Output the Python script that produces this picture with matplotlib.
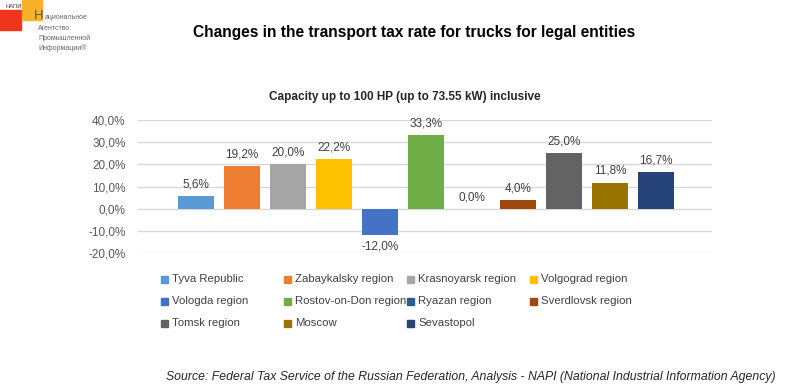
import matplotlib
matplotlib.use("Agg")
import matplotlib.pyplot as plt
from matplotlib.patches import Rectangle
from matplotlib.ticker import FuncFormatter

regions = ["Tyva Republic", "Zabaykalsky region", "Krasnoyarsk region", "Volgograd region",
           "Vologda region", "Rostov-on-Don region", "Ryazan region", "Sverdlovsk region",
           "Tomsk region", "Moscow", "Sevastopol"]
values = [5.6, 19.2, 20.0, 22.2, -12.0, 33.3, 0.0, 4.0, 25.0, 11.8, 16.7]
colors = ["#5B9BD5", "#ED7D31", "#A5A5A5", "#FFC000", "#4472C4", "#70AD47",
          "#255E91", "#9E480E", "#636363", "#997300", "#264478"]
yticks = [-20, -10, 0, 10, 20, 30, 40]

title = "Changes in the transport tax rate for trucks for legal entities"
subtitle = "Capacity up to 100 HP (up to 73.55 kW) inclusive"
source = "Source: Federal Tax Service of the Russian Federation, Analysis - NAPI (National Industrial Information Agency)"

plt.rcParams["font.family"] = ["Liberation Sans", "DejaVu Sans"]

W, H = 800, 391
fig = plt.figure(figsize=(W / 100, H / 100), dpi=100)
fig.patch.set_facecolor("white")

def fx(px):
    return px / W

def fy(py):
    return 1 - py / H

ax = fig.add_axes([fx(138), fy(253), fx(712) - fx(138), fy(120) - fy(253)])
x = list(range(len(values)))
ax.bar(x, values, width=0.78, color=colors, zorder=3)
ax.set_xlim(-1.26, 11.22)
ax.set_ylim(-20, 40)
ax.set_yticks(yticks)
ax.yaxis.set_major_formatter(FuncFormatter(lambda v, p: f"{v:.1f}%".replace(".", ",")))
ax.tick_params(axis="y", length=0, labelsize=8.5, labelcolor="#595959", pad=9)
ax.set_xticks([])
for s in ax.spines.values():
    s.set_visible(False)
ax.grid(axis="y", color="#D9D9D9", linewidth=1, zorder=0)

for xi, v in zip(x, values):
    lab = f"{v:.1f}%".replace(".", ",")
    if v < 0:
        ax.annotate(lab, (xi, v), xytext=(0, -4), textcoords="offset points",
                    ha="center", va="top", fontsize=8.5, color="#404040")
    else:
        ax.annotate(lab, (xi, v), xytext=(0, 4), textcoords="offset points",
                    ha="center", va="bottom", fontsize=8.5, color="#404040")

# legend (row-wise, 4 columns, evenly spaced like Excel)
for i, (name, c) in enumerate(zip(regions, colors)):
    r, col = divmod(i, 4)
    px = 161 + 123 * col
    py = 279 + 22 * r
    fig.patches.append(Rectangle((fx(px), fy(py + 3.5)), fx(7), fy(0) - fy(7),
                                 transform=fig.transFigure, color=c))
    fig.text(fx(px + 11), fy(py), name, fontsize=8.2, color="#404040", va="center", ha="left")

fig.text(fx(414), fy(33), title, fontsize=11.2, fontweight="bold", ha="center", va="center")
fig.text(fx(405), fy(97), subtitle, fontsize=8.5, fontweight="bold", ha="center", va="center",
         color="#262626")
fig.text(fx(776), fy(377), source, fontsize=8.8, style="italic", ha="right", va="center",
         color="#262626")

# logo
fig.patches.append(Rectangle((fx(0), fy(30)), fx(21), fy(10) - fy(30),
                             transform=fig.transFigure, color="#F0341E"))
fig.patches.append(Rectangle((fx(22), fy(20)), fx(20), fy(0) - fy(20),
                             transform=fig.transFigure, color="#F9B02A"))
fig.text(fx(5), fy(7), "НАПИ", fontsize=4.2, color="#444444", va="center")
fig.text(fx(34), fy(19), "Н", fontsize=9.5, color="#555555", va="baseline")
logo_lines = ["ациональное", "Агентство", "Промышленной", "Информации®"]
logo_x = [45, 38, 38, 38]
logo_y = [19, 30, 40, 50]
for t, lx, ly in zip(logo_lines, logo_x, logo_y):
    fig.text(fx(lx), fy(ly), t, fontsize=5, color="#666666", va="baseline")

fig.savefig("out.png", dpi=100)
